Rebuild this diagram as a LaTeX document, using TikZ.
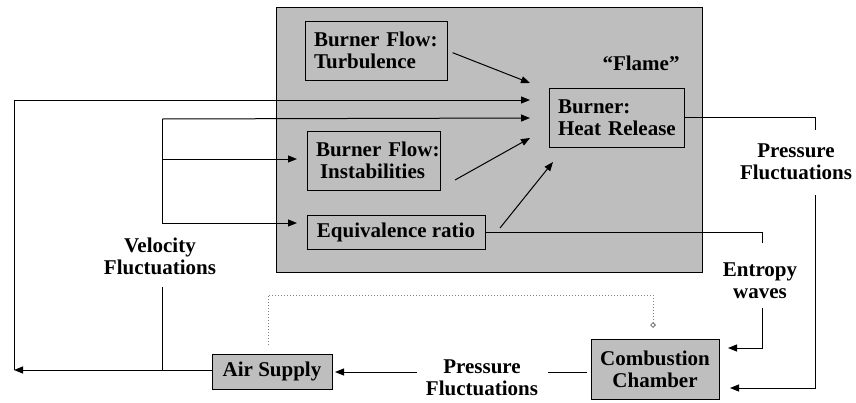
\documentclass[tikz,border=0pt]{standalone}
\usepackage{fontspec}
\setmainfont{Liberation Serif}
\usetikzlibrary{arrows.meta}
\definecolor{shade}{RGB}{190,190,190}
\begin{document}
\begin{tikzpicture}[x=1pt,y=-1pt,
  every node/.style={font=\fontsize{21}{22}\selectfont\bfseries, inner sep=0pt, outer sep=0pt},
  box/.style={draw=black, line width=0.8pt, fill=shade},
  lbox/.style={box, align=left, inner xsep=9pt},
  cbox/.style={box, align=center},
  lab/.style={align=center},
  conn/.style={line width=1pt, draw=black},
  arr/.style={conn, -{Triangle[length=9pt,width=7pt]}},
  dots/.style={draw=gray, line width=1pt, dotted, -{Diamond[open,length=6pt,width=6pt]}}
]
\useasboundingbox (0,0) rectangle (856,402);
% flame region
\node[box, minimum width=426pt, minimum height=265pt, anchor=north west] (flamebox) at (276,7) {};
\node[lab] (flame) at (641,63) {“Flame”};
% boxes
\node[lbox, minimum height=59pt, text width=124pt] (turb) at (376,50.5) {\mbox{Burner Flow:}\\\mbox{Turbulence}};
\node[lbox, minimum height=59pt, text width=115pt] (inst) at (373.5,160.5) {\mbox{Burner Flow:}\\\mbox{\hspace*{4pt}Instabilities}};
\node[cbox, minimum width=178pt, minimum height=34pt] (equiv) at (396,232) {Equivalence ratio};
\node[lbox, minimum height=59pt, text width=117pt] (heat) at (616.5,117.5) {\mbox{Burner:}\\\mbox{Heat Release}};
\node[cbox, minimum width=120pt, minimum height=35pt] (air) at (272,371.5) {Air Supply};
\node[cbox, minimum width=128pt, minimum height=60pt] (comb) at (655,369) {Combustion\\Chamber};
% labels
\node[lab] (pfr) at (796,162) {Pressure\\Fluctuations};
\node[lab] (ent) at (760,281) {Entropy\\waves};
\node[lab] (vel) at (160,256) {Velocity\\Fluctuations};
\node[lab] (pfb) at (482,378) {Pressure\\Fluctuations};
% coordinates
\coordinate (bl) at (14,370);
\coordinate (tl) at (14,100);
\coordinate (h1) at (530,100);
\coordinate (vtop) at (162,119);
\coordinate (h2) at (530,118);
\coordinate (vmid) at (162,159);
\coordinate (veq) at (162,223);
\coordinate (vlab) at (162,287);
\coordinate (vbot) at (162,370);
\coordinate (t1) at (530,83);
\coordinate (t3) at (530,138);
\coordinate (t4) at (553,162);
\coordinate (e1) at (762,232);
\coordinate (e2) at (762,243);
\coordinate (e3) at (762,308);
\coordinate (e4) at (762,348);
\coordinate (p2) at (815,130);
\coordinate (p3) at (815,195);
\coordinate (p4) at (815,388);
\coordinate (b1) at (548,372);
\coordinate (b2) at (417,372);
\coordinate (d1) at (268,345);
\coordinate (d2) at (268,295);
\coordinate (d3) at (653,295);
\coordinate (d4) at (653,328);
% velocity loop
\draw[arr] (air.west |- bl) -- (bl);
\draw[arr] (bl) -- (tl) -- (h1);
\draw[conn] (vlab) -- (vbot);
\draw[arr] (vtop) -- (h2);
\draw[conn] (vtop) -- (veq);
\draw[arr, shorten >=10pt] (vmid) -- (vmid -| inst.west);
\draw[arr, shorten >=10pt] (veq) -- (veq -| equiv.west);
% into heat release
\draw[arr, shorten <=6pt] (turb.east) -- (t1);
\draw[arr] ([shift={(15,-10)}]inst.south east) -- (t3);
\draw[arr] ([shift={(15,-4)}]equiv.east) -- (t4);
% entropy
\draw[conn] (equiv.east) -- (e1) -- (e2);
\draw[arr, shorten >=9pt] (e3) -- (e4) -- (e4 -| comb.east);
% pressure right
\draw[conn] (heat.east) -- (heat.east -| p2) -- (p2);
\draw[arr, shorten >=11pt] (p3) -- (p4) -- (p4 -| comb.east);
% pressure bottom
\draw[conn, shorten >=4pt] (b1) -- (b1 -| comb.west);
\draw[arr, shorten >=3pt] (b2) -- (b2 -| air.east);
% dotted feedback
\draw[dots] (d1) -- (d2) -- (d3) -- (d4);
\end{tikzpicture}
\end{document}
